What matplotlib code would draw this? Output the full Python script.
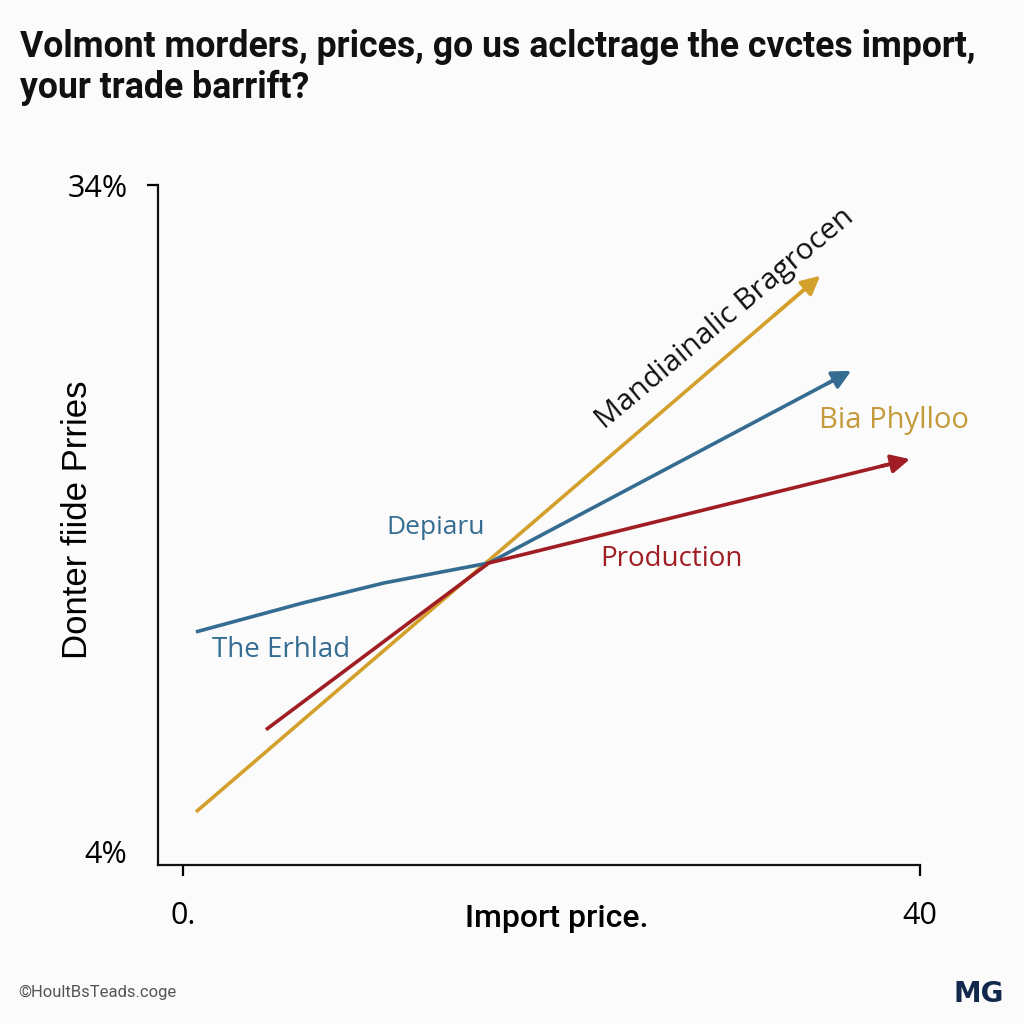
import matplotlib
matplotlib.use("Agg")
import matplotlib.pyplot as plt

# data
gold_x = [0.7, 34.7]
gold_y = [5.8, 30.0]
blue_x = [0.7, 6.5, 10.9, 16.6, 36.4]
blue_y = [13.9, 15.2, 16.1, 17.0, 25.7]
red_x = [4.5, 16.6, 39.6]
red_y = [9.5, 17.0, 21.7]

x_ticks = [0, 40]
x_ticklabels = ["0.", "40"]
y_ticks = [4, 34]
y_ticklabels = ["4%", "34%"]

title_1 = "Volmont morders, prices, go us aclctrage the cvctes import,"
title_2 = "your trade barrift?"

gold = "#D4A02C"
blue = "#356C92"
red = "#A11D24"

fig = plt.figure(figsize=(10.24, 10.24), dpi=100, facecolor="#FBFBFB")
ax = fig.add_axes([0.1543, 0.1553, 0.7441, 0.664])
ax.set_facecolor("#FBFBFB")

for xs, ys, c in [(gold_x, gold_y, gold), (blue_x, blue_y, blue), (red_x, red_y, red)]:
    ax.plot(xs[:-1] + [xs[-1] - 0.02 * (xs[-1] - xs[-2])],
            ys[:-1] + [ys[-1] - 0.02 * (ys[-1] - ys[-2])],
            color=c, lw=2.6, solid_capstyle="butt")
    ax.annotate("", xy=(xs[-1], ys[-1]),
                xytext=(xs[-1] - 0.08 * (xs[-1] - xs[-2]), ys[-1] - 0.08 * (ys[-1] - ys[-2])),
                arrowprops=dict(arrowstyle="-|>", color=c, lw=2.6, mutation_scale=28))

ax.set_xlim(-1.36, 40)
ax.set_ylim(3.415, 34)
for s in ["top", "right"]:
    ax.spines[s].set_visible(False)
for s in ["left", "bottom"]:
    ax.spines[s].set_linewidth(1.6)
    ax.spines[s].set_color("#111111")

ax.set_xticks(x_ticks)
ax.set_xticklabels(x_ticklabels, fontsize=22, family="Open Sans")
ax.set_yticks(y_ticks)
ax.set_yticklabels(y_ticklabels, fontsize=22, family="Open Sans")
ax.tick_params(axis="x", length=8, width=1.6, pad=18)
ax.tick_params(axis="y", length=8, width=1.6, pad=14)
ax.yaxis.get_major_ticks()[0].tick1line.set_visible(False)

ax.set_xlabel("Import price.", fontsize=23, family="Roboto", fontweight="medium", va="center")
ax.xaxis.set_label_coords(0.523, -0.078)
ax.set_ylabel("Donter fiide Prries", fontsize=25, family="Liberation Sans", va="center")
ax.yaxis.set_label_coords(-0.105, 0.507)

ax.text(29.4, 28.0, "Mandiainalic Bragrocen", rotation=40, fontsize=21.5, family="Open Sans",
        color="#111111", ha="center", va="center", rotation_mode="anchor")
ax.text(38.6, 23.4, "Bia Phylloo", fontsize=21, family="Open Sans", color="#C49A3A",
        ha="center", va="center")
ax.text(13.7, 18.6, "Depiaru", fontsize=19, family="Open Sans", color=blue,
        ha="center", va="center")
ax.text(26.5, 17.2, "Production", fontsize=20, family="Open Sans", color=red,
        ha="center", va="center")
ax.text(5.3, 13.1, "The Erhlad", fontsize=20, family="Open Sans", color=blue,
        ha="center", va="center")

# title, sized so the first line spans the same width as the reference
t1 = fig.text(0.02, 1 - 47 / 1024, title_1, fontsize=24, family="Roboto",
              fontweight="bold", ha="left", va="center", color="#111111")
t2 = fig.text(0.02, 1 - 88 / 1024, title_2, fontsize=24, family="Roboto",
              fontweight="bold", ha="left", va="center", color="#111111")
fig.canvas.draw()
w = t1.get_window_extent().width
fs = 24 * 955 / w
t1.set_fontsize(fs)
t2.set_fontsize(fs)

fig.text(0.018, 0.031, "©HoultBsTeads.coge", fontsize=12, family="Roboto",
         color="#555555", ha="left", va="center")
fig.text(0.98, 0.029, "MG", fontsize=20, fontweight="bold", family="DejaVu Sans",
         color="#13294B", ha="right", va="center")

fig.savefig("out.png", dpi=100, facecolor=fig.get_facecolor())
